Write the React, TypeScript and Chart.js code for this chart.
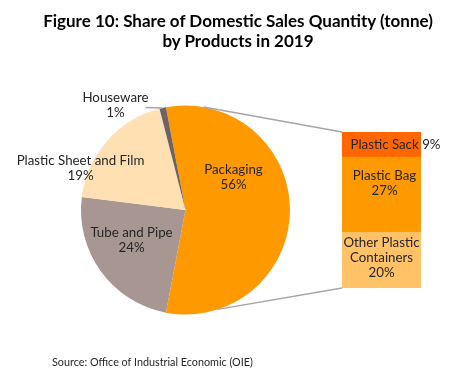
import React, { useEffect, useRef } from "react";
import { Chart, registerables } from "chart.js";

Chart.register(...registerables);

// ---- data ----
const TITLE_LINES = [
  "Figure 10: Share of Domestic Sales Quantity (tonne)",
  "by Products in 2019",
];
const SOURCE_TEXT = "Source: Office of Industrial Economic (OIE)";

const PIE_CATEGORIES = ["Packaging", "Tube and Pipe", "Plastic Sheet and Film", "Houseware"];
const PIE_VALUES = [56, 24, 19, 1];

// stacked bar (bottom -> top) splitting "Packaging"
const BAR_CATEGORIES = ["Other Plastic Containers", "Plastic Bag", "Plastic Sack"];
const BAR_VALUES = [20, 27, 9];

// ---- styles ----
const PIE_COLORS = ["#FF9900", "#A89692", "#FFE0B3", "#6E6262"];
const BAR_COLORS = ["#FFC266", "#FF9900", "#FF6600"];
const LINE_COLOR = "#A6A6A6";
const TEXT_COLOR = "#262626";
const FONT = "Lato, 'Open Sans', sans-serif";
const LABEL_FONT = `13.3px ${FONT}`;
const LINE_H = 15;

// pie label block centres, relative to pie centre
const PIE_LABEL_OFFSETS = [
  [48, -33],
  [-54, 30],
  [-105, -42],
  [-70, -105],
];
const PIE_LABEL_LINES = [
  ["Packaging"],
  ["Tube and Pipe"],
  ["Plastic Sheet and Film"],
  ["Houseware"],
];
const BAR_LABEL_LINES = [["Other Plastic", "Containers"], ["Plastic Bag"], ["Plastic Sack"]];
const BAR_LABEL_OFFSETS = [
  [0, -2],
  [3, -11],
  [14, 0.5],
];
const CONNECTOR_ANGLES = [10, 162]; // degrees clockwise from top

const pieLabelPlugin = {
  id: "pieLabels",
  afterDatasetsDraw(chart: any) {
    const ctx = chart.ctx;
    const meta = chart.getDatasetMeta(0);
    const total = PIE_VALUES.reduce((a, b) => a + b, 0);
    ctx.save();
    ctx.font = LABEL_FONT;
    ctx.fillStyle = TEXT_COLOR;
    ctx.textAlign = "center";
    ctx.textBaseline = "middle";
    meta.data.forEach((arc: any, i: number) => {
      const cx = arc.x;
      const cy = arc.y;
      const lines = [...PIE_LABEL_LINES[i], `${Math.round((PIE_VALUES[i] / total) * 100)}%`];
      const bx = cx + PIE_LABEL_OFFSETS[i][0];
      const by = cy + PIE_LABEL_OFFSETS[i][1];
      const y0 = by - ((lines.length - 1) * LINE_H) / 2;
      lines.forEach((t, k) => ctx.fillText(t, bx, y0 + k * LINE_H));
      // leader line for the tiny slice
      if (PIE_VALUES[i] / total < 0.03) {
        const mid = (arc.startAngle + arc.endAngle) / 2;
        const ex = cx + Math.cos(mid) * arc.outerRadius;
        const ey = cy + Math.sin(mid) * arc.outerRadius;
        const w = ctx.measureText(lines[0]).width;
        ctx.strokeStyle = LINE_COLOR;
        ctx.lineWidth = 1.5;
        ctx.beginPath();
        ctx.moveTo(bx + w / 2 - 3, y0 + 10);
        ctx.lineTo(ex, ey);
        ctx.stroke();
      }
    });
    ctx.restore();
  },
};

function makeBarPlugin(pie: any) {
  return {
    id: "barExtras",
    afterDatasetsDraw(chart: any) {
      const ctx = chart.ctx;
      const total = PIE_VALUES.reduce((a, b) => a + b, 0);
      ctx.save();
      // connectors
      const arc = pie.getDatasetMeta(0).data[0];
      const top = chart.getDatasetMeta(BAR_VALUES.length - 1).data[0];
      const bottom = chart.getDatasetMeta(0).data[0];
      const left = top.x - top.width / 2;
      const corners = [
        [left, top.y],
        [left, bottom.base],
      ];
      ctx.strokeStyle = LINE_COLOR;
      ctx.lineWidth = 1.5;
      CONNECTOR_ANGLES.forEach((deg, k) => {
        const a = ((deg - 90) * Math.PI) / 180;
        ctx.beginPath();
        ctx.moveTo(arc.x + Math.cos(a) * arc.outerRadius, arc.y + Math.sin(a) * arc.outerRadius);
        ctx.lineTo(corners[k][0], corners[k][1]);
        ctx.stroke();
      });
      // labels
      ctx.font = LABEL_FONT;
      ctx.fillStyle = TEXT_COLOR;
      ctx.textBaseline = "middle";
      BAR_VALUES.forEach((v, i) => {
        const el = chart.getDatasetMeta(i).data[0];
        const cx = el.x + BAR_LABEL_OFFSETS[i][0];
        const cy = (el.y + el.base) / 2 + BAR_LABEL_OFFSETS[i][1];
        const pct = `${Math.round((v / total) * 100)}%`;
        const lines = BAR_LABEL_LINES[i];
        ctx.textAlign = "center";
        if (i === BAR_VALUES.length - 1) {
          ctx.fillText(`${lines[0]} ${pct}`, cx, cy);
        } else {
          const all = [...lines, pct];
          const y0 = cy - ((all.length - 1) * LINE_H) / 2;
          all.forEach((t, k) => ctx.fillText(t, cx, y0 + k * LINE_H));
        }
      });
      ctx.restore();
    },
  };
}

export default function App() {
  const pieRef = useRef<HTMLCanvasElement>(null);
  const barRef = useRef<HTMLCanvasElement>(null);

  useEffect(() => {
    const pie = new Chart(pieRef.current!, {
      type: "pie",
      data: {
        labels: PIE_CATEGORIES,
        datasets: [
          {
            data: PIE_VALUES,
            backgroundColor: PIE_COLORS,
            borderWidth: 0,
            hoverOffset: 0,
          },
        ],
      },
      options: {
        animation: false,
        responsive: true,
        maintainAspectRatio: false,
        rotation: -(PIE_VALUES[0] / PIE_VALUES.reduce((a, b) => a + b, 0)) * 180 + 90,
        layout: { padding: { left: 81, right: 186, top: 105, bottom: 62 } },
        plugins: { legend: { display: false }, tooltip: { enabled: false }, title: { display: false } },
        events: [],
      },
      plugins: [pieLabelPlugin],
    });

    const bar = new Chart(barRef.current!, {
      type: "bar",
      data: {
        labels: ["Packaging"],
        datasets: BAR_VALUES.map((v, i) => ({
          label: BAR_CATEGORIES[i],
          data: [v],
          backgroundColor: BAR_COLORS[i],
          borderWidth: 0,
          barPercentage: 1,
          categoryPercentage: 1,
        })),
      },
      options: {
        animation: false,
        responsive: true,
        maintainAspectRatio: false,
        layout: { padding: { left: 342, right: 55, top: 132, bottom: 89 } },
        scales: {
          x: { display: false, stacked: true },
          y: { display: false, stacked: true, min: 0, max: BAR_VALUES.reduce((a, b) => a + b, 0) },
        },
        plugins: { legend: { display: false }, tooltip: { enabled: false } },
        events: [],
      },
      plugins: [makeBarPlugin(pie)],
    });

    return () => {
      bar.destroy();
      pie.destroy();
    };
  }, []);

  const layer: React.CSSProperties = { position: "absolute", left: 0, top: 0, width: 476, height: 377 };

  return (
    <div style={{ position: "fixed", left: 0, top: 0, width: 476, height: 377, background: "#fff", overflow: "hidden" }}>
      <div style={layer}>
        <canvas ref={pieRef} />
      </div>
      <div style={layer}>
        <canvas ref={barRef} />
      </div>
      <div
        style={{
          position: "absolute",
          left: 0,
          top: 11,
          width: 476,
          textAlign: "center",
          fontFamily: FONT,
          fontWeight: 700,
          fontSize: 17,
          lineHeight: "20px",
          color: "#000",
          whiteSpace: "nowrap",
        }}
      >
        {TITLE_LINES.map((t) => (
          <div key={t}>{t}</div>
        ))}
      </div>
      <div
        style={{
          position: "absolute",
          left: 52,
          top: 355,
          fontFamily: FONT,
          fontSize: 10.8,
          lineHeight: "14px",
          color: TEXT_COLOR,
          whiteSpace: "nowrap",
        }}
      >
        {SOURCE_TEXT}
      </div>
    </div>
  );
}
